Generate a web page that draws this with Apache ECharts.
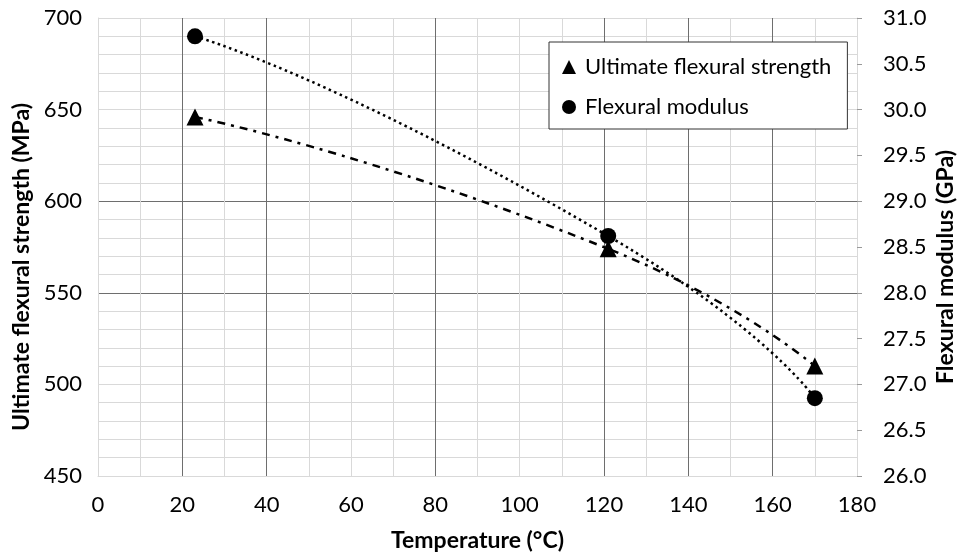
<!DOCTYPE html>
<html>
<head>
<meta charset="utf-8">
<script src="https://cdn.jsdelivr.net/npm/echarts@6/dist/echarts.min.js"></script>
<style>html,body{margin:0;padding:0;background:#fff}#c{width:957px;height:553px}</style>
</head>
<body>
<div id="c"></div>
<script>
const temperatures = [23, 121, 170];
const strength = [646, 574, 510];
const modulus = [30.8, 28.62, 26.85];
const xTicks = [0, 180, 20];
const leftTicks = [450, 700, 50];
const rightTicks = [26, 31, 0.5];

const L = '#d9d9d9', D = '#6e6e6e';
const font = 'Lato, "Open Sans", sans-serif';
const chart = echarts.init(document.getElementById('c'), null, {renderer: 'canvas'});
const pairs = (ys) => temperatures.map((t, i) => [t, ys[i]]);

chart.setOption({
  animation: false,
  backgroundColor: '#fff',
  textStyle: {fontFamily: font, color: '#000'},
  grid: {left: 98, right: 100, top: 18, bottom: 77, containLabel: false, outerBoundsMode: 'none'},
  legend: {
    orient: 'vertical', left: 549, top: 42,
    padding: [14, 16, 11, 13], itemGap: 18, itemWidth: 14, itemHeight: 14,
    backgroundColor: '#fff', borderColor: '#333', borderWidth: 1,
    textStyle: {fontFamily: font, fontSize: 22, color: '#000', padding: [0, 0, 0, 4]},
    data: [{name: 'Ultimate flexural strength', icon: 'triangle'}, {name: 'Flexural modulus', icon: 'circle'}]
  },
  xAxis: {
    type: 'value', min: xTicks[0], max: xTicks[1], interval: xTicks[2],
    name: 'Temperature (°C)', nameLocation: 'middle', nameGap: 53,
    nameTextStyle: {fontFamily: font, fontSize: 23, fontWeight: 'bold', color: '#000'},
    axisLine: {show: true, lineStyle: {color: L}},
    axisTick: {show: false},
    axisLabel: {fontFamily: font, fontSize: 22, color: '#000', margin: 18},
    splitLine: {show: true, lineStyle: {color: [L, D, D, L, D, L, D, D, D, L], width: 1}},
    minorTick: {show: false, splitNumber: 2},
    minorSplitLine: {show: true, lineStyle: {color: L, width: 1}}
  },
  yAxis: [{
    type: 'value', min: leftTicks[0], max: leftTicks[1], interval: leftTicks[2],
    name: 'Ultimate flexural strength (MPa)', nameLocation: 'middle', nameGap: 64, nameRotate: 90,
    nameTextStyle: {fontFamily: font, fontSize: 23, fontWeight: 'bold', color: '#000', padding: [0, 40, 0, 0]},
    axisLine: {show: true, lineStyle: {color: L}},
    axisTick: {show: false},
    axisLabel: {fontFamily: font, fontSize: 22, color: '#000', margin: 16},
    splitLine: {show: true, lineStyle: {color: [L, L, D, D, L, L], width: 1}},
    minorTick: {show: false, splitNumber: 5},
    minorSplitLine: {show: true, lineStyle: {color: L, width: 1}}
  }, {
    type: 'value', min: rightTicks[0], max: rightTicks[1], interval: rightTicks[2],
    name: 'Flexural modulus (GPa)', nameLocation: 'middle', nameGap: 77, nameRotate: 90,
    nameMoveOverlap: false,
    nameTextStyle: {fontFamily: font, fontSize: 23, fontWeight: 'bold', color: '#000', padding: [0, 40, 0, 0]},
    axisLine: {show: true, lineStyle: {color: L}},
    axisTick: {show: true, length: 5, lineStyle: {color: '#999'}},
    axisLabel: {fontFamily: font, fontSize: 22, color: '#000', margin: 26,
      formatter: v => v.toFixed(1)},
    splitLine: {show: false}
  }],
  series: [
    {name: 'strengthTrend', type: 'line', data: pairs(strength), yAxisIndex: 0, smooth: 0.6,
     showSymbol: false, symbol: 'none', silent: true,
     lineStyle: {color: '#000', width: 2.5, type: [8, 6, 3, 6]}, z: 2},
    {name: 'modulusTrend', type: 'line', data: pairs(modulus), yAxisIndex: 1, smooth: 0.7,
     showSymbol: false, symbol: 'none', silent: true,
     lineStyle: {color: '#000', width: 2.5, type: [2.5, 3.5]}, z: 2},
    {name: 'Ultimate flexural strength', type: 'scatter', data: pairs(strength), yAxisIndex: 0,
     symbol: 'triangle', symbolSize: 17, itemStyle: {color: '#000', opacity: 1}, z: 3},
    {name: 'Flexural modulus', type: 'scatter', data: pairs(modulus), yAxisIndex: 1,
     symbol: 'circle', symbolSize: 16, itemStyle: {color: '#000', opacity: 1}, z: 3}
  ]
});
</script>
</body>
</html>
